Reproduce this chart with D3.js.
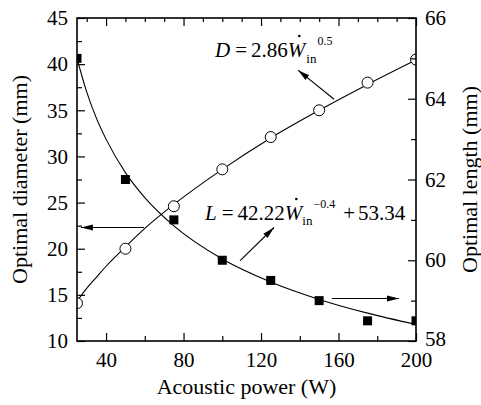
<!DOCTYPE html>
<html>
<head>
<meta charset="utf-8">
<script src="https://cdn.jsdelivr.net/npm/d3@7"></script>
<style>
  body { margin: 0; background: #fff; }
</style>
</head>
<body>
<svg id="chart" width="481" height="405"></svg>
<script>
// measured points
var power = [25, 50, 75, 100, 125, 150, 175, 200];
var diameter = [14.1, 20.0, 24.6, 28.6, 32.1, 35.0, 38.0, 40.5];
var optLength = [65.0, 62.0, 61.0, 60.0, 59.5, 59.0, 58.5, 58.5];

// fitted curves
var fitPower = [25, 30, 35, 40, 50, 60, 75, 100, 125, 150, 175, 200];
var fitDiameter = [14.3, 15.7, 16.9, 18.1, 20.2, 22.2, 24.8, 28.6, 32.0, 35.0, 37.8, 40.45];
var fitLength = [65.0, 64.17, 63.52, 63.0, 62.17, 61.55, 60.85, 60.03, 59.46, 59.03, 58.69, 58.41];

var xTicks = [40, 80, 120, 160, 200];
var leftTicks = [10, 15, 20, 25, 30, 35, 40, 45];
var rightTicks = [58, 60, 62, 64, 66];

var FONT = "'Liberation Serif', 'Times New Roman', Times, serif";

var W = 481, H = 405;
var margin = {top: 18, right: 65, bottom: 64, left: 77};
var w = W - margin.left - margin.right,
    h = H - margin.top - margin.bottom;

var svg = d3.select("#chart");
var g = svg.append("g").attr("transform", "translate(" + margin.left + "," + margin.top + ")");

var x = d3.scaleLinear().domain([25, 200]).range([0, w]);
var yL = d3.scaleLinear().domain([10, 45]).range([h, 0]);
var yR = d3.scaleLinear().domain([58, 66]).range([h, 0]);

// defs: clip + arrowhead
var defs = svg.append("defs");
defs.append("clipPath").attr("id", "clip")
  .append("rect").attr("width", w).attr("height", h);
defs.append("marker").attr("id", "arr")
  .attr("viewBox", "0 0 12 10").attr("refX", 12).attr("refY", 5)
  .attr("markerWidth", 12).attr("markerHeight", 10)
  .attr("markerUnits", "userSpaceOnUse")
  .attr("orient", "auto")
  .append("path").attr("d", "M0,2 L12,5 L0,8 Z").attr("fill", "#000");

// curves
var lineD = d3.line().x(function(d){ return x(d[0]); }).y(function(d){ return yL(d[1]); }).curve(d3.curveMonotoneX);
var lineL = d3.line().x(function(d){ return x(d[0]); }).y(function(d){ return yR(d[1]); }).curve(d3.curveMonotoneX);

var plot = g.append("g").attr("clip-path", "url(#clip)");

plot.append("path").datum(d3.zip(fitPower, fitDiameter))
  .attr("d", lineD).attr("fill", "none").attr("stroke", "#000").attr("stroke-width", 1.1);
plot.append("path").datum(d3.zip(fitPower, fitLength))
  .attr("d", lineL).attr("fill", "none").attr("stroke", "#000").attr("stroke-width", 1.1);

plot.selectAll("circle.d").data(d3.zip(power, diameter)).enter()
  .append("circle").attr("class", "d")
  .attr("cx", function(d){ return x(d[0]); })
  .attr("cy", function(d){ return yL(d[1]); })
  .attr("r", 5.5)
  .attr("fill", "#fff").attr("stroke", "#000").attr("stroke-width", 1);

var sq = 9;
plot.selectAll("rect.l").data(d3.zip(power, optLength)).enter()
  .append("rect").attr("class", "l")
  .attr("x", function(d){ return x(d[0]) - sq / 2; })
  .attr("y", function(d){ return yR(d[1]) - sq / 2; })
  .attr("width", sq).attr("height", sq)
  .attr("fill", "#000");

// axes (ticks inside)
function styleAxis(sel) {
  sel.attr("font-family", null);
  sel.select(".domain").remove();
  sel.selectAll("line").attr("stroke", "#000").attr("stroke-width", 1.2);
  sel.selectAll("text").style("font-family", FONT).style("font-size", "21px").attr("fill", "#000");
}

var xMinor = d3.range(30, 201, 10).filter(function(v){ return xTicks.indexOf(v) < 0; });
var xMinorBottom = [60, 100, 140, 180];

g.append("g").attr("transform", "translate(0," + h + ")")
  .call(d3.axisBottom(x).tickValues(xTicks).tickSize(-8).tickPadding(11).tickFormat(d3.format("d")))
  .call(styleAxis);
g.append("g").attr("transform", "translate(0," + h + ")")
  .call(d3.axisBottom(x).tickValues(xMinorBottom).tickSize(-5).tickFormat(""))
  .call(styleAxis);

g.append("g")
  .call(d3.axisTop(x).tickValues(xTicks).tickSize(-8).tickFormat(""))
  .call(styleAxis);
g.append("g")
  .call(d3.axisTop(x).tickValues(xMinor).tickSize(-4).tickFormat(""))
  .call(styleAxis);

g.append("g")
  .call(d3.axisLeft(yL).tickValues(leftTicks).tickSize(-8).tickPadding(9).tickFormat(d3.format("d")))
  .call(styleAxis);
g.append("g")
  .call(d3.axisLeft(yL).tickValues(d3.range(12.5, 45, 5)).tickSize(-5).tickFormat(""))
  .call(styleAxis);

var rightAxis = g.append("g").attr("transform", "translate(" + w + ",0)")
  .call(d3.axisRight(yR).tickValues(rightTicks).tickSize(-8).tickPadding(9).tickFormat(d3.format("d")))
  .call(styleAxis);
// lift the bottom label a little so it clears the "200"
rightAxis.selectAll(".tick").filter(function(d){ return d === 58; })
  .select("text").attr("dy", "0.2em");
g.append("g").attr("transform", "translate(" + w + ",0)")
  .call(d3.axisRight(yR).tickValues([59, 61, 63, 65]).tickSize(-5).tickFormat(""))
  .call(styleAxis);

// frame
g.append("rect").attr("width", w).attr("height", h)
  .attr("fill", "none").attr("stroke", "#000").attr("stroke-width", 1.6);

// axis titles
function label(sel) {
  return sel.style("font-family", FONT).style("font-size", "22px")
    .attr("text-anchor", "middle").attr("fill", "#000");
}
g.append("text").attr("x", w / 2).attr("y", h + 53)
  .call(label).text("Acoustic power (W)");
g.append("text").attr("transform", "translate(" + (-50) + "," + (h / 2) + ") rotate(-90)")
  .call(label).text("Optimal diameter (mm)");
g.append("text").attr("transform", "translate(" + (w + 61) + "," + (h / 2) + ") rotate(-90)")
  .call(label).text("Optimal length (mm)");

// arrows (data coords of the left axis)
var arrows = [
  [[157.7, 36.2], [139.1, 39.35]],
  [[59.6, 22.3], [27.0, 22.3]],
  [[109.2, 18.7], [126.7, 22.3]],
  [[156.6, 14.6], [191.2, 14.6]]
];
g.selectAll("line.arrow").data(arrows).enter()
  .append("line").attr("class", "arrow")
  .attr("x1", function(d){ return x(d[0][0]); })
  .attr("y1", function(d){ return yL(d[0][1]); })
  .attr("x2", function(d){ return x(d[1][0]); })
  .attr("y2", function(d){ return yL(d[1][1]); })
  .attr("stroke", "#000").attr("stroke-width", 1.1)
  .attr("marker-end", "url(#arr)");

// equations, laid out piece by piece (svg coords)
function equation(px, py, parts) {
  var cx = px;
  parts.forEach(function(p) {
    var t = svg.append("text")
      .attr("x", cx).attr("y", py + (p.dy || 0))
      .style("font-family", FONT)
      .style("font-size", p.size + "px")
      .style("font-style", p.italic ? "italic" : "normal")
      .attr("fill", "#000")
      .text(p.t);
    var len = t.node().getComputedTextLength();
    if (p.dot) {
      svg.append("circle").attr("cx", cx + len * 0.66).attr("cy", py - p.size * 1.0)
        .attr("r", 1.3).attr("fill", "#000");
    }
    cx += len + (p.gap || 0);
  });
}

equation(215, 57, [
  {t: "D", size: 21, italic: true, gap: 5},
  {t: "=", size: 21, gap: 4},
  {t: "2.86", size: 21},
  {t: "W", size: 21, italic: true, dot: true, gap: 1},
  {t: "in", size: 13, dy: 6, gap: 1},
  {t: "0.5", size: 12, dy: -12}
]);

equation(205, 220, [
  {t: "L", size: 21, italic: true, gap: 5},
  {t: "=", size: 21, gap: 4},
  {t: "42.22", size: 21},
  {t: "W", size: 21, italic: true, dot: true},
  {t: "in", size: 13, dy: 5, gap: 1},
  {t: "\u22120.4", size: 12, dy: -12, gap: 8},
  {t: "+", size: 21, gap: 3},
  {t: "53.34", size: 21}
]);
</script>
</body>
</html>
